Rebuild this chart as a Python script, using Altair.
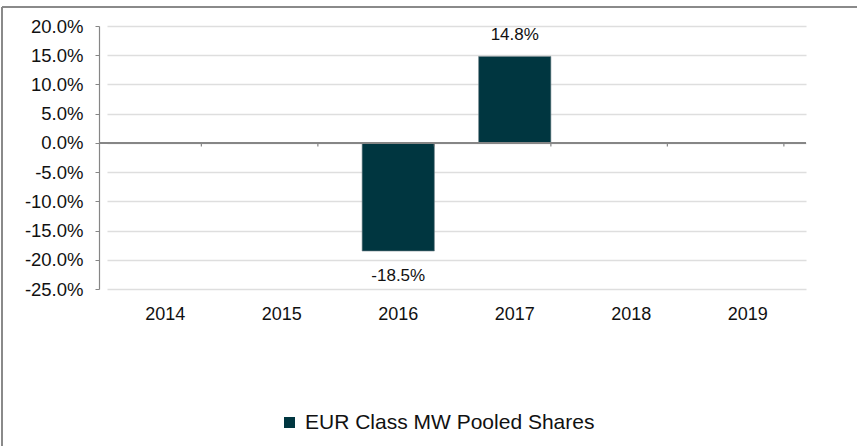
import altair as alt
import pandas as pd

years = ["2014", "2015", "2016", "2017", "2018", "2019"]
returns = [None, None, -0.185, 0.148, None, None]
series_name = "EUR Class MW Pooled Shares"
y_ticks = [-0.25, -0.20, -0.15, -0.10, -0.05, 0.0, 0.05, 0.10, 0.15, 0.20]

df = pd.DataFrame({"year": years, "ret": returns, "series": [series_name] * len(years)})

FONT = "Liberation Sans"
W, H = 707, 263

x_scale = alt.Scale(domain=years, range=[8, W], paddingInner=0.38, paddingOuter=0.19)
y_scale = alt.Scale(domain=[-0.25, 0.20], nice=False, zero=False)

x_axis = alt.Axis(title=None, domain=False, ticks=False, tickSize=0, labelPadding=16,
                  labelFontSize=18, labelFont=FONT, labelColor="#111111", labelAngle=0,
                  grid=False)
y_axis = alt.Axis(title=None, format=".1%", values=y_ticks,
                  labelExpr="replace(datum.label, '\u2212', '-')",
                  labelOverlap=False, labelBound=False, labelFlush=False,
                  labelFontSize=18.5, labelFont=FONT, labelColor="#111111", labelPadding=12,
                  tickSize=4, tickColor="#868686", domainColor="#868686", domainWidth=1.2,
                  grid=True, gridColor="#dedede", gridWidth=1.5)

base = alt.Chart(df)

border_left = base.mark_rule(stroke="#8a8a8a", strokeWidth=1.5).encode(
    x=alt.value(-97), y=alt.value(-19), y2=alt.value(500)
)
border_top = base.mark_rule(stroke="#8a8a8a", strokeWidth=1.5).encode(
    x=alt.value(-97), x2=alt.value(758), y=alt.value(-19)
)

bars = base.transform_filter("datum.ret != null").mark_bar(
    stroke="#6f8286", strokeWidth=0.6
).encode(
    x=alt.X("year:N", scale=x_scale, sort=years, axis=x_axis),
    y=alt.Y("ret:Q", scale=y_scale, axis=y_axis),
    y2=alt.datum(0),
    color=alt.Color("series:N", scale=alt.Scale(domain=[series_name], range=["#003640"]),
                    legend=alt.Legend(title=None, orient="none", legendX=180, legendY=386,
                                      symbolType="square", symbolSize=121, symbolStrokeWidth=0,
                                      labelFontSize=21, labelFont=FONT, labelColor="#111111",
                                      labelOffset=5, labelLimit=0, padding=0)),
)

zero_line = base.mark_rule(color="#868686", strokeWidth=1.5).encode(
    y=alt.Y(datum=0, scale=y_scale, axis=y_axis),
    x=alt.value(0), x2=alt.value(W)
)

ticks = base.mark_rule(color="#868686", strokeWidth=1.2).encode(
    x=alt.X("year:N", scale=x_scale, sort=years, bandPosition=1, axis=x_axis),
    y=alt.Y(datum=0, scale=y_scale, axis=y_axis),
    y2=alt.value(120.5),
)

labels = base.transform_filter("datum.ret != null").transform_calculate(
    txt="replace(format(datum.ret, '.1%'), '\u2212', '-')"
)

lab_pos = labels.transform_filter("datum.ret > 0").mark_text(
    dy=-21, fontSize=17, font=FONT, color="#111111", baseline="middle"
).encode(x=alt.X("year:N", scale=x_scale, sort=years, axis=x_axis),
         y=alt.Y("ret:Q", scale=y_scale, axis=y_axis), text="txt:N")

lab_neg = labels.transform_filter("datum.ret < 0").mark_text(
    dy=25, fontSize=17, font=FONT, color="#111111", baseline="middle"
).encode(x=alt.X("year:N", scale=x_scale, sort=years, axis=x_axis),
         y=alt.Y("ret:Q", scale=y_scale, axis=y_axis), text="txt:N")

chart = alt.layer(border_left, border_top, bars, zero_line, ticks, lab_pos, lab_neg).properties(
    width=W, height=H,
    background="white",
    autosize=alt.AutoSizeParams(type="none"),
    padding={"left": 99, "top": 26, "right": 52, "bottom": 157},
).configure_view(stroke=None)

chart.save("out.html", embed_options={"renderer": "svg", "actions": False})
